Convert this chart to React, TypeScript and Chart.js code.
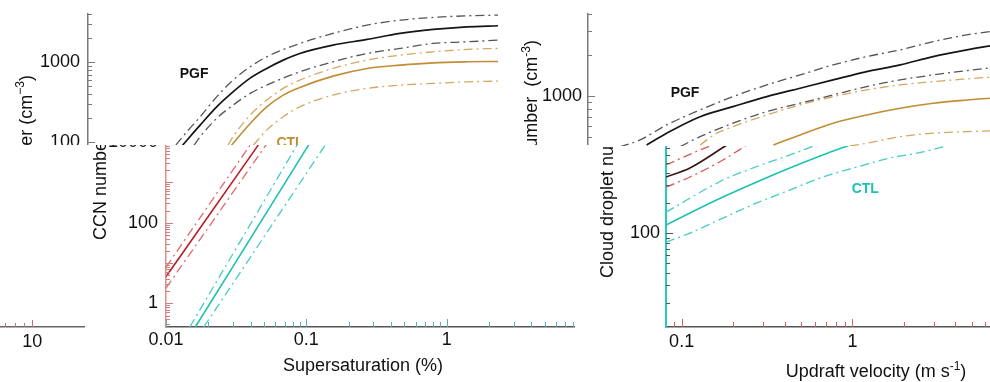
import { useEffect, useRef } from 'react';
import { Chart, registerables } from 'chart.js';

Chart.register(...registerables);

const FONT = '"Liberation Sans", Arial, Helvetica, sans-serif';

type Pt = [number, number];

// ---------- Top-left panel: CCN number (cm-3) vs supersaturation (%) ----------
const TL_PGF_HIGH: Pt[] = [[0.0212, 91.5], [0.0254, 134.5], [0.0316, 207], [0.0415, 368], [0.0543, 596], [0.072, 874], [0.0945, 1165], [0.163, 1713], [0.281, 2285], [0.492, 2900], [0.847, 3350], [1.46, 3620], [2.55, 3795], [4.24, 3870]];
const TL_PGF_MID: Pt[] = [[0.0237, 91.5], [0.0316, 163], [0.0415, 276], [0.0543, 425], [0.072, 631], [0.0945, 834], [0.124, 1059], [0.163, 1284], [0.281, 1631], [0.492, 1922], [0.847, 2285], [1.46, 2563], [2.55, 2763], [4.24, 2850]];
const TL_PGF_LOW: Pt[] = [[0.0286, 91.5], [0.0316, 116.5], [0.0415, 198], [0.0543, 290], [0.072, 406], [0.0945, 516], [0.163, 757], [0.281, 1009], [0.492, 1284], [0.847, 1483], [1.46, 1713], [2.55, 1794], [4.24, 1884]];
const TL_CTL_HIGH: Pt[] = [[0.05, 91.5], [0.0543, 116.5], [0.072, 217.5], [0.0945, 335], [0.124, 469], [0.163, 596], [0.281, 834], [0.492, 1059], [0.847, 1223], [1.46, 1345], [2.55, 1442], [4.24, 1483]];
const TL_CTL_MID: Pt[] = [[0.053, 91.5], [0.072, 171], [0.0945, 276], [0.124, 387], [0.163, 483], [0.281, 668], [0.492, 834], [0.847, 917], [1.46, 980], [2.55, 1009], [4.24, 1020]];
const TL_CTL_LOW: Pt[] = [[0.0758, 91.5], [0.0945, 141], [0.124, 207], [0.163, 276], [0.281, 387], [0.492, 469], [0.847, 516], [1.46, 542], [2.55, 567], [4.24, 579]];
const TL_Y_TICK_VALUES = [100, 1000];
const TL_Y_TICK_LABELS = ['100', '1000'];

// ---------- Top-right panel: cloud droplet number (cm-3) vs updraft velocity ----------
const TR_PGF_HIGH: Pt[] = [[0.077, 422], [0.1007, 475], [0.144, 612], [0.226, 789], [0.352, 988], [0.555, 1205], [0.869, 1427], [1.355, 1690], [2.13, 1946], [3.34, 2180], [5.21, 2507], [8.2, 2810], [11.2, 2970]];
const TR_PGF_MID: Pt[] = [[0.11, 436], [0.144, 532], [0.226, 704], [0.352, 834], [0.555, 988], [0.869, 1139], [1.355, 1311], [2.13, 1509], [3.34, 1690], [5.21, 1946], [8.2, 2180], [11.2, 2332]];
const TR_PGF_LOW: Pt[] = [[0.173, 424], [0.226, 502], [0.352, 630], [0.555, 767], [0.869, 884], [1.355, 1017], [2.13, 1171], [3.34, 1311], [5.21, 1427], [8.2, 1535], [11.2, 1606]];
const TR_CTL_HIGH: Pt[] = [[0.226, 436], [0.283, 532], [0.352, 595], [0.555, 725], [0.869, 859], [1.355, 988], [2.13, 1107], [3.34, 1205], [5.21, 1274], [8.2, 1334], [11.2, 1373]];
const TR_CTL_MID: Pt[] = [[0.607, 436], [0.869, 517], [1.355, 630], [2.13, 725], [3.34, 812], [5.21, 884], [8.2, 934], [11.2, 962]];
const TR_CTL_LOW: Pt[] = [[1.7, 429], [2.13, 449], [3.34, 502], [5.21, 532], [8.2, 547], [11.2, 553]];
const TR_Y_TICK_VALUES = [1000];
const TR_Y_TICK_LABELS = ['1000'];

// ---------- Bottom-left panel: CCN number vs supersaturation (%) ----------
const BL_PGF_HIGH: Pt[] = [[0.01, 7.9], [0.0398, 8470]];
const BL_PGF_MID: Pt[] = [[0.01, 4.57], [0.0455, 8470]];
const BL_PGF_LOW: Pt[] = [[0.01, 2.4], [0.0516, 8470]];
const BL_CTL_HIGH: Pt[] = [[0.01478, 0.26], [0.0859, 8470]];
const BL_CTL_MID: Pt[] = [[0.01618, 0.26], [0.1038, 8470]];
const BL_CTL_LOW: Pt[] = [[0.0186, 0.26], [0.1365, 8470]];
const BL_X_TICK_VALUES = [0.01, 0.1, 1];
const BL_X_TICK_LABELS = ['0.01', '0.1', '1'];
const BL_Y_TICK_VALUES = [1, 100, 10000];
const BL_Y_TICK_LABELS = ['1', '100', '10000'];

// ---------- Bottom-right panel: cloud droplet number vs updraft velocity (m s-1) ----------
const BR_PGF_HIGH: Pt[] = [[0.081, 479], [0.128, 676], [0.1524, 759]];
const BR_PGF_MID: Pt[] = [[0.081, 363], [0.1118, 447], [0.184, 759]];
const BR_PGF_LOW: Pt[] = [[0.081, 288], [0.1118, 363], [0.1744, 537], [0.241, 759]];
const BR_CTL_HIGH: Pt[] = [[0.081, 162], [0.175, 339], [0.274, 460], [0.43, 603], [0.615, 759]];
const BR_CTL_MID: Pt[] = [[0.081, 120], [0.1118, 158.5], [0.1744, 229], [0.2754, 324], [0.4295, 447], [0.67, 603], [0.966, 759]];
const BR_CTL_LOW: Pt[] = [[0.081, 81], [0.1118, 100], [0.1744, 141], [0.2754, 200], [0.4295, 269], [0.67, 363], [1.06, 457], [1.65, 562], [2.58, 646], [3.71, 759]];
const BR_X_TICK_VALUES = [0.1, 1];
const BR_X_TICK_LABELS = ['0.1', '1'];
const BR_Y_TICK_VALUES = [100, 1000];
const BR_Y_TICK_LABELS = ['100', '1000'];

// ---------- Far-left fragment: an x axis only ----------
const FL_X_TICK_VALUES = [10];
const FL_X_TICK_LABELS = ['10'];

// ---------- helpers ----------
function logTickValues(min: number, max: number): number[] {
  const out: number[] = [];
  const e0 = Math.floor(Math.log10(min));
  const e1 = Math.ceil(Math.log10(max));
  for (let e = e0; e <= e1; e++) {
    for (let m = 1; m <= 9; m++) {
      const v = Number((m * Math.pow(10, e)).toPrecision(8));
      if (v >= min * (1 - 1e-9) && v <= max * (1 + 1e-9)) out.push(v);
    }
  }
  return out;
}
const same = (a: number, b: number) => Math.abs(a - b) <= 1e-9 * Math.max(Math.abs(a), Math.abs(b));
const isDecade = (v: number) => Math.abs(Math.log10(v) - Math.round(Math.log10(v))) < 1e-9;

type AxisSpec = {
  min: number; max: number; values: number[]; labels: string[];
  size: number; pad: number; line: string; lineWidth: number; display?: boolean;
};

function logAxis(dir: 'x' | 'y', s: AxisSpec) {
  return {
    type: 'logarithmic',
    position: dir === 'x' ? 'bottom' : 'left',
    display: s.display !== false,
    min: s.min,
    max: s.max,
    grid: { display: false, drawTicks: false },
    border: { display: true, color: s.line, width: s.lineWidth },
    ticks: {
      autoSkip: false, maxRotation: 0, minRotation: 0, padding: s.pad, color: '#111',
      font: { family: FONT, size: 18 },
      callback: (v: number | string) => {
        const i = s.values.findIndex((t) => same(t, Number(v)));
        return i >= 0 ? s.labels[i] : null;
      },
    },
    afterBuildTicks: (scale: any) => {
      scale.ticks = logTickValues(s.min, s.max).map((value) => ({ value }));
    },
    afterFit: (scale: any) => {
      if (dir === 'x') scale.height = s.size; else scale.width = s.size;
    },
  };
}

// inward tick marks at every 1..9 x 10^k value of the scale range
type TickSpec = { axis: 'x' | 'y'; major: number; minor: number; color: string; width: number };
function tickPlugin(specs: TickSpec[]) {
  return {
    id: 'inTicks',
    afterDraw(chart: any) {
      const { ctx, chartArea } = chart;
      for (const sp of specs) {
        const scale = chart.scales[sp.axis];
        ctx.save();
        ctx.strokeStyle = sp.color;
        ctx.lineWidth = sp.width;
        ctx.beginPath();
        for (const v of logTickValues(scale.min, scale.max)) {
          const len = isDecade(v) ? sp.major : sp.minor;
          const p = Math.round(scale.getPixelForValue(v)) + 0.5;
          if (sp.axis === 'x') {
            ctx.moveTo(p, chartArea.bottom);
            ctx.lineTo(p, chartArea.bottom - len);
          } else {
            ctx.moveTo(chartArea.left, p);
            ctx.lineTo(chartArea.left + len, p);
          }
        }
        ctx.stroke();
        ctx.restore();
      }
    },
  };
}

type Seg = { t: string; sup?: boolean };
type TextItem = {
  segs: Seg[]; at: 'data' | 'area'; x: number; y: number; rot?: number;
  align: 'start' | 'center' | 'end'; size: number; bold?: boolean; color: string;
};
function textPlugin(items: TextItem[]) {
  return {
    id: 'texts',
    afterDraw(chart: any) {
      const { ctx, chartArea, scales } = chart;
      for (const it of items) {
        const x = it.at === 'data' ? scales.x.getPixelForValue(it.x) : chartArea.left + it.x;
        const y = it.at === 'data' ? scales.y.getPixelForValue(it.y) : chartArea.bottom + it.y;
        const w = it.bold ? 'bold ' : '';
        const mainFont = `${w}${it.size}px ${FONT}`;
        const supFont = `${w}${Math.round(it.size * 0.66)}px ${FONT}`;
        ctx.save();
        ctx.translate(x, y);
        if (it.rot) ctx.rotate(it.rot);
        ctx.fillStyle = it.color;
        ctx.textAlign = 'left';
        ctx.textBaseline = 'alphabetic';
        let total = 0;
        const widths = it.segs.map((s) => {
          ctx.font = s.sup ? supFont : mainFont;
          const m = ctx.measureText(s.t).width;
          total += m;
          return m;
        });
        let cur = it.align === 'start' ? 0 : it.align === 'end' ? -total : -total / 2;
        const base = it.size * 0.36;
        it.segs.forEach((s, i) => {
          ctx.font = s.sup ? supFont : mainFont;
          ctx.fillText(s.t, cur, s.sup ? base - it.size * 0.42 : base);
          cur += widths[i];
        });
        ctx.restore();
      }
    },
  };
}

const DASHDOT = [9, 4, 2, 4];
function series(pts: Pt[], color: string, width: number, dash: number[] = []) {
  return {
    data: pts.map(([x, y]) => ({ x, y })),
    borderColor: color,
    borderWidth: width,
    borderDash: dash,
    pointRadius: 0,
    pointHoverRadius: 0,
    fill: false,
    cubicInterpolationMode: 'monotone',
  };
}

type PanelSpec = {
  box: [number, number, number, number];
  canvas: [number, number, number, number];
  padTop: number;
  padBottom: number;
  datasets: any[];
  x: AxisSpec;
  y: AxisSpec | null;
  ticks: TickSpec[];
  texts: TextItem[];
};

function buildConfig(p: PanelSpec): any {
  return {
    type: 'line',
    data: { datasets: p.datasets },
    options: {
      responsive: false,
      animation: false,
      devicePixelRatio: 1,
      events: [],
      layout: { padding: { top: p.padTop, left: 0, right: 0, bottom: p.padBottom } },
      plugins: { legend: { display: false }, tooltip: { enabled: false }, title: { display: false } },
      scales: {
        x: logAxis('x', p.x),
        y: p.y ? logAxis('y', p.y) : { display: false },
      },
    },
    plugins: [tickPlugin(p.ticks), textPlugin(p.texts)],
  };
}

function Panel({ spec }: { spec: PanelSpec }) {
  const ref = useRef<HTMLCanvasElement>(null);
  useEffect(() => {
    const chart = new Chart(ref.current as HTMLCanvasElement, buildConfig(spec));
    return () => chart.destroy();
  }, []);
  const [bl, bt, bw, bh] = spec.box;
  const [cl, ct, cw, ch] = spec.canvas;
  return (
    <div style={{ position: 'absolute', left: bl, top: bt, width: bw, height: bh, overflow: 'hidden', background: '#fff' }}>
      <canvas ref={ref} width={cw} height={ch}
        style={{ position: 'absolute', left: cl - bl, top: ct - bt, width: cw, height: ch }} />
    </div>
  );
}

const GOLD = '#c18d35';
const GOLD_LIGHT = '#d3a862';
const CYAN = '#1cc2b0';
const CYAN_LIGHT = '#45cdc2';
const RED = '#b81c24';
const RED_LIGHT = '#e06a6a';

// plot areas (page px): TL 88..498 x 14..222, TR 588..990 x 14..232,
// BL 166..575 x 142..327, BR 666..1000 x 133..327
const TL_SPEC: PanelSpec = {
  box: [0, 0, 498, 145],
  canvas: [0, -6, 498, 248],
  padTop: 20,
  padBottom: 20,
  datasets: [
    series(TL_PGF_HIGH, '#555', 1.3, DASHDOT),
    series(TL_PGF_MID, '#151515', 1.7),
    series(TL_PGF_LOW, '#555', 1.3, DASHDOT),
    series(TL_CTL_HIGH, GOLD_LIGHT, 1.3, DASHDOT),
    series(TL_CTL_MID, GOLD, 1.6),
    series(TL_CTL_LOW, GOLD_LIGHT, 1.3, DASHDOT),
  ],
  x: { min: 0.005, max: 4.24, values: [], labels: [], size: 0, pad: 0, line: '#777', lineWidth: 1, display: false },
  y: { min: 10, max: 4000, values: TL_Y_TICK_VALUES, labels: TL_Y_TICK_LABELS, size: 88, pad: 8, line: '#7a7a7a', lineWidth: 1.5 },
  ticks: [{ axis: 'y', major: 7, minor: 4, color: '#7a7a7a', width: 1 }],
  texts: [
    { segs: [{ t: 'CCN number (cm' }, { t: '−3', sup: true }, { t: ')' }], at: 'area', x: -62.5, y: -147, rot: -Math.PI / 2, align: 'end', size: 18, color: '#111' },
    { segs: [{ t: 'PGF' }], at: 'data', x: 0.0286, y: 731, align: 'center', size: 14, bold: true, color: '#111' },
    { segs: [{ t: 'CTL' }], at: 'data', x: 0.1387, y: 100, align: 'center', size: 14, bold: true, color: GOLD },
  ],
};

const TR_SPEC: PanelSpec = {
  box: [498, 0, 492, 146],
  canvas: [498, -6, 492, 258],
  padTop: 20,
  padBottom: 20,
  datasets: [
    series(TR_PGF_HIGH, '#555', 1.3, DASHDOT),
    series(TR_PGF_MID, '#151515', 1.7),
    series(TR_PGF_LOW, '#555', 1.3, DASHDOT),
    series(TR_CTL_HIGH, GOLD_LIGHT, 1.3, DASHDOT),
    series(TR_CTL_MID, GOLD, 1.6),
    series(TR_CTL_LOW, GOLD_LIGHT, 1.3, DASHDOT),
  ],
  x: { min: 0.05, max: 11.2, values: [], labels: [], size: 0, pad: 0, line: '#777', lineWidth: 1, display: false },
  y: { min: 100, max: 4000, values: TR_Y_TICK_VALUES, labels: TR_Y_TICK_LABELS, size: 90, pad: 6, line: '#7a7a7a', lineWidth: 1.5 },
  ticks: [{ axis: 'y', major: 7, minor: 4, color: '#7a7a7a', width: 1 }],
  texts: [
    { segs: [{ t: 'Cloud droplet number  (cm' }, { t: '-3', sup: true }, { t: ')' }], at: 'area', x: -57, y: -192, rot: -Math.PI / 2, align: 'end', size: 18, color: '#111' },
    { segs: [{ t: 'PGF' }], at: 'data', x: 0.1846, y: 1074, align: 'center', size: 14, bold: true, color: '#111' },
  ],
};

const BL_SPEC: PanelSpec = {
  box: [0, 145, 590, 237],
  canvas: [0, 122, 575, 260],
  padTop: 20,
  padBottom: 0,
  datasets: [
    series(BL_PGF_HIGH, RED_LIGHT, 1.3, DASHDOT),
    series(BL_PGF_MID, RED, 1.6),
    series(BL_PGF_LOW, RED_LIGHT, 1.3, DASHDOT),
    series(BL_CTL_HIGH, CYAN_LIGHT, 1.3, DASHDOT),
    series(BL_CTL_MID, CYAN, 1.6),
    series(BL_CTL_LOW, CYAN_LIGHT, 1.3, DASHDOT),
  ],
  x: { min: 0.01, max: 8.2, values: BL_X_TICK_VALUES, labels: BL_X_TICK_LABELS, size: 55, pad: 2, line: '#555', lineWidth: 1.5 },
  y: { min: 0.26, max: 10000, values: BL_Y_TICK_VALUES, labels: BL_Y_TICK_LABELS, size: 166, pad: 8, line: '#e58b8b', lineWidth: 1.5 },
  ticks: [
    { axis: 'x', major: 8, minor: 5, color: '#4fb5b0', width: 1 },
    { axis: 'y', major: 7, minor: 4, color: '#c98080', width: 1 },
  ],
  texts: [
    { segs: [{ t: 'CCN number (cm' }, { t: '−3', sup: true }, { t: ')' }], at: 'area', x: -66, y: -87, rot: -Math.PI / 2, align: 'start', size: 18, color: '#111' },
    { segs: [{ t: 'Supersaturation (%)' }], at: 'area', x: 197, y: 37.5, align: 'center', size: 18, color: '#111' },
  ],
};

const BR_SPEC: PanelSpec = {
  box: [590, 146, 400, 236],
  canvas: [590, 113, 410, 269],
  padTop: 20,
  padBottom: 0,
  datasets: [
    series(BR_PGF_HIGH, '#d75a5a', 1.3, DASHDOT),
    series(BR_PGF_MID, '#3a1515', 1.6),
    series(BR_PGF_LOW, '#d75a5a', 1.3, DASHDOT),
    series(BR_CTL_HIGH, CYAN_LIGHT, 1.3, DASHDOT),
    series(BR_CTL_MID, CYAN, 1.6),
    series(BR_CTL_LOW, CYAN_LIGHT, 1.3, DASHDOT),
  ],
  x: { min: 0.081, max: 7.3, values: BR_X_TICK_VALUES, labels: BR_X_TICK_LABELS, size: 55, pad: 4, line: '#555', lineWidth: 1.5 },
  y: { min: 11.5, max: 1000, values: BR_Y_TICK_VALUES, labels: BR_Y_TICK_LABELS, size: 76, pad: 6, line: '#22ccc4', lineWidth: 2 },
  ticks: [
    { axis: 'x', major: 8, minor: 5, color: '#e06060', width: 1 },
    { axis: 'y', major: 7, minor: 4, color: '#555', width: 1 },
  ],
  texts: [
    { segs: [{ t: 'Cloud droplet number  (cm' }, { t: '-3', sup: true }, { t: ')' }], at: 'area', x: -59, y: -49, rot: -Math.PI / 2, align: 'start', size: 18, color: '#111' },
    { segs: [{ t: 'Updraft velocity (m s' }, { t: '-1', sup: true }, { t: ')' }], at: 'area', x: 210, y: 44, align: 'center', size: 18, color: '#111' },
    { segs: [{ t: 'CTL' }], at: 'data', x: 1.188, y: 280, align: 'center', size: 14, bold: true, color: CYAN },
  ],
};

const FL_SPEC: PanelSpec = {
  box: [0, 300, 100, 60],
  canvas: [-50, 300, 135, 55],
  padTop: 0,
  padBottom: 0,
  datasets: [],
  x: { min: 3.38, max: 20, values: FL_X_TICK_VALUES, labels: FL_X_TICK_LABELS, size: 28, pad: 4, line: '#666', lineWidth: 1.5 },
  y: null,
  ticks: [{ axis: 'x', major: 7, minor: 4, color: '#d07070', width: 1 }],
  texts: [],
};

export default function App() {
  return (
    <div style={{ position: 'fixed', left: 0, top: 0, width: 990, height: 382, background: '#fff', overflow: 'hidden' }}>
      <Panel spec={TL_SPEC} />
      <Panel spec={TR_SPEC} />
      <Panel spec={BL_SPEC} />
      <Panel spec={BR_SPEC} />
      <Panel spec={FL_SPEC} />
    </div>
  );
}
